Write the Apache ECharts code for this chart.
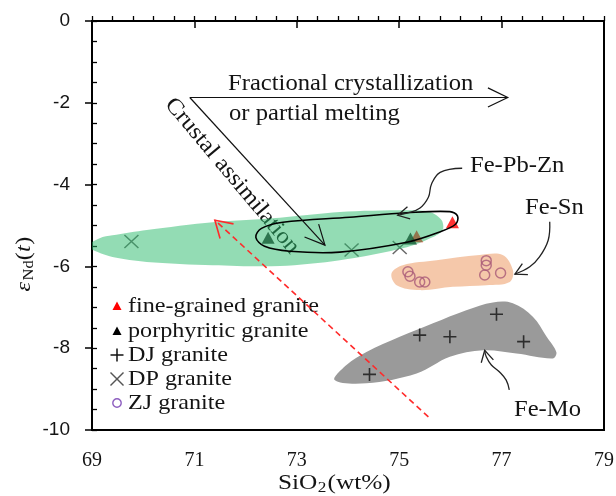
<!DOCTYPE html>
<html>
<head>
<meta charset="utf-8">
<script src="https://cdn.jsdelivr.net/npm/echarts@6/dist/echarts.min.js"></script>
<style>
  html, body { margin: 0; padding: 0; background: #fff; }
  #chart { width: 616px; height: 496px; }
</style>
</head>
<body>
<div id="chart"></div>
<script>
// Axis ticks
const xTicks = [69, 71, 73, 75, 77, 79];
const yTicks = [0, -2, -4, -6, -8, -10];

// Samples: [SiO2 wt%, eNd(t)]
const fineGrained = [[76.04, -4.92], [75.34, -5.26]];
const porphyritic = [[72.44, -5.30], [75.22, -5.32]];
const djGranite = [[75.40, -7.68], [75.99, -7.72], [76.90, -7.17], [77.43, -7.84], [74.42, -8.64]];
const dpGranite = [[69.77, -5.39], [74.07, -5.60], [75.01, -5.54]];
const zjGranite = [[75.17, -6.13], [75.21, -6.24], [75.40, -6.38], [75.50, -6.38],
                   [76.70, -5.86], [76.70, -5.97], [76.67, -6.21], [76.98, -6.16]];

// Field outlines (data units)
const dpField = [[68.92, -5.50], [69.15, -5.31], [69.40, -5.24], [70.07, -5.11], [71.36, -4.92],
                 [72.67, -4.81], [73.84, -4.67], [75.15, -4.63], [75.60, -4.67], [75.83, -4.87],
                 [75.85, -5.11], [75.65, -5.29], [75.15, -5.53], [73.84, -5.85], [72.67, -5.99],
                 [71.36, -5.97], [70.07, -5.89], [69.40, -5.77], [69.11, -5.65]];
const fePbZnLoop = [[72.20, -5.29], [72.31, -5.07], [72.73, -4.92], [74.03, -4.80], [75.15, -4.69],
                    [75.99, -4.66], [76.14, -4.77], [76.10, -4.97], [75.79, -5.16], [75.15, -5.41],
                    [73.84, -5.65], [72.86, -5.63], [72.37, -5.51]];
const feSnField = [[74.85, -6.17], [75.07, -5.97], [75.73, -5.85], [76.57, -5.72], [77.02, -5.72],
                   [77.22, -6.09], [77.16, -6.38], [76.70, -6.46], [76.05, -6.50], [75.40, -6.58],
                   [74.95, -6.46]];
const feMoField = [[73.74, -8.78], [74.36, -8.86], [75.34, -8.62], [75.99, -8.21], [76.64, -8.05],
                   [77.29, -8.13], [78.00, -8.25], [78.07, -8.10], [77.88, -7.72], [77.61, -7.23],
                   [77.22, -6.90], [76.83, -6.88], [76.31, -7.07], [75.66, -7.39], [75.01, -7.72],
                   [74.36, -8.09], [73.97, -8.41]];

// Trend arrows and leader arrows (data units, tail -> tip)
const fractionationArrow = [[70.91, -1.87], [77.12, -1.87]];
const assimilationArrow = [[70.91, -1.87], [73.55, -5.48]];
const redTrendArrow = [[75.57, -9.68], [71.40, -4.87]];
const fePbZnLeader = [[76.23, -3.60], [75.80, -3.70], [75.63, -3.99], [75.57, -4.31], [75.40, -4.58], [75.15, -4.70], [74.97, -4.75]];
const feSnLeader = [[77.94, -4.91], [77.91, -5.36], [77.74, -5.77], [77.55, -6.01], [77.26, -6.19]];
const feMoLeader = [[77.15, -9.02], [77.09, -8.78], [76.96, -8.58], [76.80, -8.41], [76.70, -8.21], [76.67, -8.05]];

const SERIF = '"Liberation Serif", "Times New Roman", serif';
const SANS = '"Liberation Sans", Arial, sans-serif';

function fieldRenderer(points, style, smooth, closed) {
  return function (params, api) {
    const pts = points.map(p => api.coord(p));
    return {
      type: closed ? 'polygon' : 'polyline',
      shape: { points: pts, smooth: smooth },
      style: style
    };
  };
}

function arrowRenderer(points, opt) {
  return function (params, api) {
    const pts = points.map(p => api.coord(p));
    const tip = pts[pts.length - 1];
    const prev = pts[pts.length - 2];
    const ang = Math.atan2(prev[1] - tip[1], prev[0] - tip[0]);
    const a1 = ang + opt.spread, a2 = ang - opt.spread;
    const head = [
      [tip[0] + opt.head * Math.cos(a1), tip[1] + opt.head * Math.sin(a1)],
      tip,
      [tip[0] + opt.head * Math.cos(a2), tip[1] + opt.head * Math.sin(a2)]
    ];
    return {
      type: 'group',
      children: [
        { type: 'polyline', shape: { points: pts, smooth: opt.smooth || 0 },
          style: { stroke: opt.color, lineWidth: opt.width, lineDash: opt.dash || null, fill: null } },
        { type: 'polyline', shape: { points: head },
          style: { stroke: opt.color, lineWidth: opt.width, fill: null } }
      ]
    };
  };
}

function customSeries(name, renderItem, z, anchor) {
  return {
    type: 'custom', name: name, z: z, clip: true, silent: true,
    renderItem: renderItem, data: [anchor]
  };
}

function txt(x, y, text, size, extra) {
  return Object.assign({
    type: 'text', x: x, y: y, scaleX: 1.07, silent: true,
    style: { text: text, font: size + 'px ' + SERIF, fill: '#141414',
             textAlign: 'left', textVerticalAlign: 'middle', align: 'left', verticalAlign: 'middle' }
  }, extra || {});
}

const plusPath = 'path://M0,6.5L13,6.5M6.5,0L6.5,13';
const crossPath = 'path://M0,0L13,13M13,0L0,13';

const chart = echarts.init(document.getElementById('chart'), null, { renderer: 'canvas' });

// Legend rows built from the series names
const legendRows = ['fine-grained granite', 'porphyritic granite', 'DJ granite', 'DP granite', 'ZJ granite'];
const legendY = [306, 331, 355, 379, 403];
const legendSymbols = [
  { type: 'polygon', shape: { points: [[-4.5, 4], [0, -4.5], [4.5, 4]] }, style: { fill: '#ff0000' } },
  { type: 'polygon', shape: { points: [[-4.5, 4], [0, -4.5], [4.5, 4]] }, style: { fill: '#000' } },
  { type: 'polyline', shape: { points: [[-6.5, 0], [6.5, 0]] }, style: { stroke: '#111', lineWidth: 1.5 } },
  { type: 'polyline', shape: { points: [[-6.5, -6.5], [6.5, 6.5]] }, style: { stroke: '#555', lineWidth: 1.4 } },
  { type: 'circle', shape: { cx: 0, cy: 0, r: 4.2 }, style: { fill: null, stroke: '#8e5fc0', lineWidth: 1.4 } }
];
const legendExtra = [
  null, null,
  { type: 'polyline', shape: { points: [[0, -6.5], [0, 6.5]] }, style: { stroke: '#111', lineWidth: 1.5 } },
  { type: 'polyline', shape: { points: [[6.5, -6.5], [-6.5, 6.5]] }, style: { stroke: '#555', lineWidth: 1.4 } },
  null
];
const legendChildren = [];
legendRows.forEach((name, i) => {
  const g = { type: 'group', x: 117, y: legendY[i], children: [legendSymbols[i]] };
  if (legendExtra[i]) g.children.push(legendExtra[i]);
  legendChildren.push(g);
  legendChildren.push(Object.assign(txt(128, legendY[i], name, 21), { scaleX: 1.15 }));
});

const option = {
  animation: false,
  backgroundColor: '#fff',
  grid: { left: 92, right: 12, top: 21, bottom: 66, show: true, borderColor: '#000', borderWidth: 2,
          containLabel: false, outerBoundsMode: 'none' },
  xAxis: [
    { type: 'value', min: 69, max: 79, interval: 2, position: 'bottom',
      axisLine: { lineStyle: { color: '#000', width: 2 } },
      axisTick: { show: true, inside: false, length: 7, lineStyle: { color: '#000', width: 1.5 } },
      axisLabel: { margin: 21, fontFamily: SERIF, fontSize: 20, color: '#141414',
                   formatter: v => (xTicks.indexOf(v) >= 0 ? String(v) : '') },
      splitLine: { show: false } },
    { type: 'value', min: 69, max: 79, interval: 0.4, position: 'bottom',
      axisLine: { show: false },
      axisTick: { show: true, inside: true, length: 5, lineStyle: { color: '#000', width: 1.3 } },
      axisLabel: { show: false }, splitLine: { show: false } }
  ],
  yAxis: [
    { type: 'value', min: -10, max: 0, interval: 2, position: 'left',
      axisLine: { lineStyle: { color: '#000', width: 2 } },
      axisTick: { show: true, inside: false, length: 7, lineStyle: { color: '#000', width: 1.5 } },
      axisLabel: { margin: 22, fontFamily: SANS, fontSize: 19, color: '#141414',
                   formatter: v => (yTicks.indexOf(v) >= 0 ? String(v) : '') },
      splitLine: { show: false } },
    { type: 'value', min: -10, max: 0, interval: 0.5, position: 'left',
      axisLine: { show: false },
      axisTick: { show: true, inside: true, length: 5, lineStyle: { color: '#000', width: 1.3 } },
      axisLabel: { show: false }, splitLine: { show: false } }
  ],
  series: [
    customSeries('Fe-Mo field', fieldRenderer(feMoField, { fill: '#9a9a9a' }, 0.35, true), 1, feMoField[0]),
    { type: 'scatter', name: 'DJ granite', z: 2, data: djGranite, symbol: plusPath, symbolSize: 13,
      itemStyle: { color: 'rgba(0,0,0,0)', borderColor: '#111', borderWidth: 1.6 }, silent: true },
    { type: 'scatter', name: 'ZJ granite', z: 2, data: zjGranite, symbol: 'circle', symbolSize: 10,
      itemStyle: { color: 'rgba(0,0,0,0)', borderColor: '#66239a', borderWidth: 1.5 }, silent: true },
    customSeries('Fe-Sn field', fieldRenderer(feSnField, { fill: 'rgba(235,145,85,0.5)' }, 0.35, true), 3, feSnField[0]),
    { type: 'scatter', name: 'DP granite', z: 3, data: dpGranite, symbol: crossPath, symbolSize: [14, 13],
      itemStyle: { color: 'rgba(0,0,0,0)', borderColor: '#444', borderWidth: 1.4 }, silent: true },
    { type: 'scatter', name: 'fine-grained granite', z: 3, data: fineGrained, symbol: 'triangle', symbolSize: [13, 12],
      itemStyle: { color: '#ff0000' }, silent: true },
    { type: 'scatter', name: 'porphyritic granite', z: 3, data: porphyritic, symbol: 'triangle', symbolSize: [13, 12],
      itemStyle: { color: '#000' }, silent: true },
    customSeries('DP field', fieldRenderer(dpField, { fill: 'rgba(40,185,105,0.5)' }, 0.3, true), 4, dpField[0]),
    customSeries('Fe-Pb-Zn field', fieldRenderer(fePbZnLoop, { fill: null, stroke: '#000', lineWidth: 1.6 }, 0.35, true), 5, fePbZnLoop[0]),
    customSeries('fractionation', arrowRenderer(fractionationArrow, { color: '#111', width: 1.2, head: 22, spread: 0.45 }), 6, fractionationArrow[0]),
    customSeries('assimilation', arrowRenderer(assimilationArrow, { color: '#111', width: 1.2, head: 22, spread: 0.45 }), 6, assimilationArrow[0]),
    customSeries('trend', arrowRenderer(redTrendArrow, { color: '#ff2a2a', width: 1.6, head: 19, spread: 0.55, dash: [6, 4] }), 6, redTrendArrow[0]),
    customSeries('Fe-Pb-Zn leader', arrowRenderer(fePbZnLeader, { color: '#222', width: 1.3, head: 13, spread: 0.5, smooth: 0.4 }), 6, fePbZnLeader[0]),
    customSeries('Fe-Sn leader', arrowRenderer(feSnLeader, { color: '#222', width: 1.3, head: 13, spread: 0.5, smooth: 0.4 }), 6, feSnLeader[0]),
    customSeries('Fe-Mo leader', arrowRenderer(feMoLeader, { color: '#222', width: 1.3, head: 13, spread: 0.5, smooth: 0.4 }), 6, feMoLeader[0])
  ],
  graphic: [
    txt(228, 84, 'Fractional crystallization', 23),
    txt(229, 114, 'or partial melting', 23),
    txt(232, 176, 'Crustal assimilation', 23, {
      rotation: -0.873,
      style: { text: 'Crustal assimilation', font: '23px ' + SERIF, fill: '#141414',
               textAlign: 'center', textVerticalAlign: 'middle', align: 'center', verticalAlign: 'middle' }
    }),
    txt(470, 166, 'Fe-Pb-Zn', 23),
    txt(525, 208, 'Fe-Sn', 23),
    txt(514, 410, 'Fe-Mo', 23),
    { type: 'group', children: legendChildren },
    // x-axis title: SiO2 (wt%)
    { type: 'group', x: 278, y: 483, scaleX: 1.15, children: [
      { type: 'text', x: 0, y: 0, style: { text: 'SiO', font: '22px ' + SERIF, fill: '#141414', textVerticalAlign: 'middle', verticalAlign: 'middle' } },
      { type: 'text', x: 34.5, y: 5, style: { text: '2', font: '15px ' + SERIF, fill: '#141414', textVerticalAlign: 'middle', verticalAlign: 'middle' } },
      { type: 'text', x: 43, y: 0, style: { text: '(wt%)', font: '22px ' + SERIF, fill: '#141414', textVerticalAlign: 'middle', verticalAlign: 'middle' } }
    ] },
    // y-axis title: eNd(t), reading upward
    { type: 'group', x: 24, y: 264, rotation: Math.PI / 2, scaleX: 1.1, children: [
      { type: 'text', x: -25, y: 0, style: { text: 'ε', font: 'italic 22px ' + SERIF, fill: '#141414', textVerticalAlign: 'middle', verticalAlign: 'middle' } },
      { type: 'text', x: -15, y: 5, style: { text: 'Nd', font: '15px ' + SERIF, fill: '#141414', textVerticalAlign: 'middle', verticalAlign: 'middle' } },
      { type: 'text', x: 3.5, y: 0, style: { text: '(', font: '22px ' + SERIF, fill: '#141414', textVerticalAlign: 'middle', verticalAlign: 'middle' } },
      { type: 'text', x: 11, y: 0, style: { text: 't', font: 'italic 22px ' + SERIF, fill: '#141414', textVerticalAlign: 'middle', verticalAlign: 'middle' } },
      { type: 'text', x: 17.5, y: 0, style: { text: ')', font: '22px ' + SERIF, fill: '#141414', textVerticalAlign: 'middle', verticalAlign: 'middle' } }
    ] }
  ]
};

chart.setOption(option);
</script>
</body>
</html>
